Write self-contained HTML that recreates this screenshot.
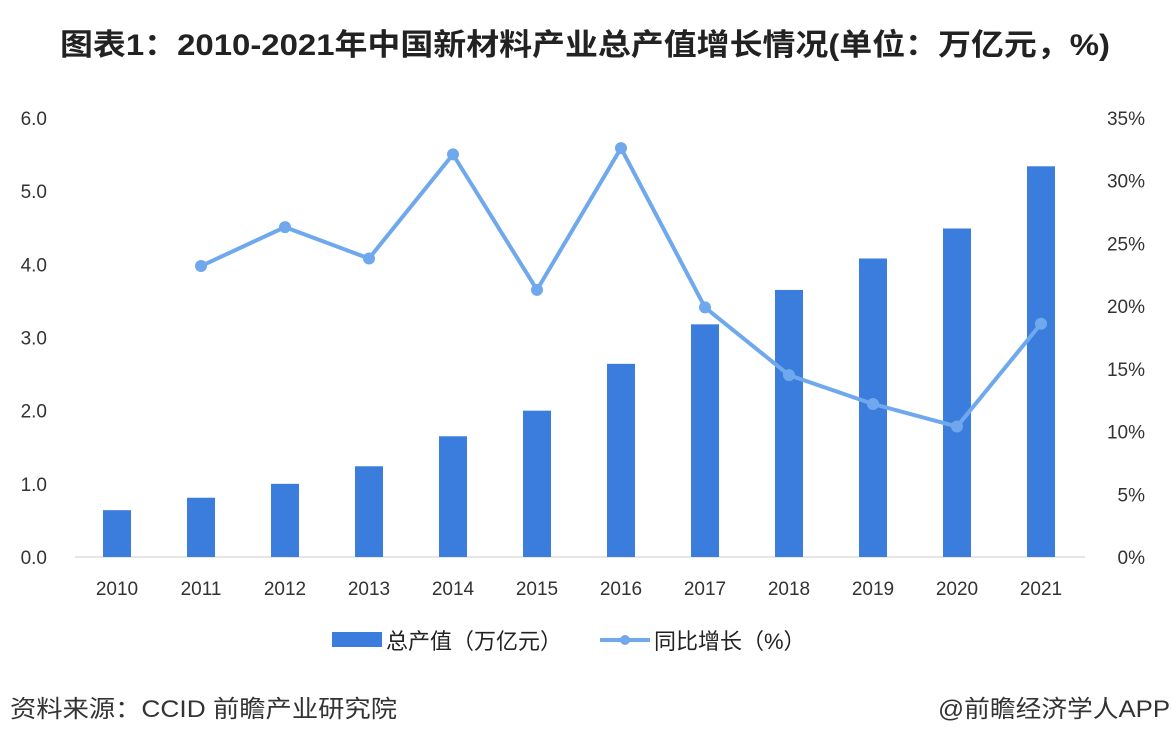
<!DOCTYPE html>
<html><head><meta charset="utf-8"><style>
body{margin:0;background:#fff;width:1172px;height:750px;overflow:hidden;font-family:"Liberation Sans","Noto Sans CJK SC",sans-serif;}
</style></head><body>
<svg id="c" width="1172" height="750" xmlns="http://www.w3.org/2000/svg">
<text x="60" y="55" font-size="30" font-weight="bold" fill="#222" textLength="1050" lengthAdjust="spacingAndGlyphs" font-family="Liberation Sans, Noto Sans CJK SC, sans-serif">图表1：2010-2021年中国新材料产业总产值增长情况(单位：万亿元，%)</text>
<g id="axes"></g><g id="bars"></g><g id="line"></g>
<g>
<rect x="332" y="632" width="50" height="15" fill="#3b7ddd"/>
<text x="386" y="649" font-size="22" fill="#222">总产值（万亿元）</text>
<line x1="600" y1="640" x2="650" y2="640" stroke="#6fa8ec" stroke-width="4"/>
<circle cx="625" cy="640" r="5" fill="#6fa8ec"/>
<text x="654" y="649" font-size="22" fill="#222">同比增长（%）</text>
</g>
<text x="10" y="717" font-size="24" fill="#333" textLength="387" lengthAdjust="spacingAndGlyphs">资料来源：CCID 前瞻产业研究院</text>
<text x="938" y="717" font-size="24" fill="#333" textLength="232" lengthAdjust="spacingAndGlyphs">@前瞻经济学人APP</text>
</svg>
<script>
const years=["2010","2011","2012","2013","2014","2015","2016","2017","2018","2019","2020","2021"];
const output=[0.64,0.81,1.0,1.24,1.65,2.0,2.64,3.18,3.65,4.08,4.49,5.34];
const growth=[null,23.2,26.3,23.8,32.1,21.3,32.6,19.9,14.5,12.2,10.4,18.6];
const leftTicks=[0,1,2,3,4,5,6];
const rightTicks=[0,5,10,15,20,25,30,35];
const NS="http://www.w3.org/2000/svg";
const y0=557,yTop=118;
const yL=v=>y0-(y0-yTop)*v/6;
const yR=v=>y0-(y0-yTop)*v/35;
const xC=i=>117+i*84;
function mk(t,a,p){const e=document.createElementNS(NS,t);for(const k in a)e.setAttribute(k,a[k]);p.appendChild(e);return e;}
const axes=document.getElementById('axes'),bars=document.getElementById('bars'),line=document.getElementById('line');
leftTicks.forEach(v=>{const t=mk('text',{x:47,y:yL(v)+7,'text-anchor':'end','font-size':19,fill:'#333'},axes);t.textContent=v.toFixed(1);

});
rightTicks.forEach(v=>{const t=mk('text',{x:1145,y:yR(v)+7,'text-anchor':'end','font-size':19,fill:'#333'},axes);t.textContent=v+'%';

});
const ax=mk('line',{x1:75,y1:y0,x2:1085,y2:y0,stroke:'#ccc','stroke-width':1},axes);


years.forEach((y,i)=>{const t=mk('text',{x:xC(i),y:595,'text-anchor':'middle','font-size':19,fill:'#333'},axes);t.textContent=y;


const r=mk('rect',{x:xC(i)-14,y:yL(output[i]),width:28,height:y0-yL(output[i]),fill:'#3b7ddd'},bars);

});
let pts=[];growth.forEach((g,i)=>{if(g!=null)pts.push(xC(i)+','+yR(g));});
const pl=mk('polyline',{points:pts.join(' '),fill:'none',stroke:'#6fa8ec','stroke-width':4,'stroke-linejoin':'round'},line);


growth.forEach((g,i)=>{if(g==null)return;const c=mk('circle',{cx:xC(i),cy:yR(g),r:6,fill:'#6fa8ec'},line);

});
</script>
</body></html>
